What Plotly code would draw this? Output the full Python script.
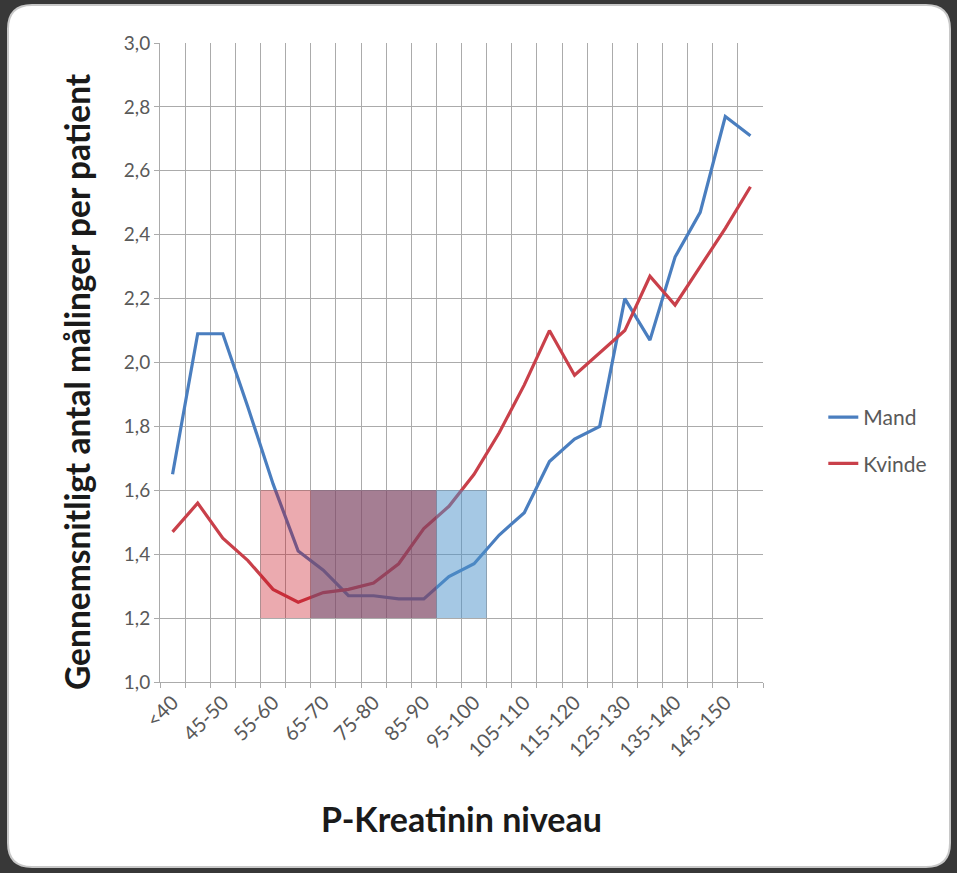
import plotly.graph_objects as go

categories = ["<40", "40-45", "45-50", "50-55", "55-60", "60-65", "65-70", "70-75",
              "75-80", "80-85", "85-90", "90-95", "95-100", "100-105", "105-110",
              "110-115", "115-120", "120-125", "125-130", "130-135", "135-140",
              "140-145", "145-150", ">150"]

mand = [1.65, 2.09, 2.09, 1.86, 1.62, 1.41, 1.35, 1.27, 1.27, 1.26, 1.26, 1.33,
        1.37, 1.46, 1.53, 1.69, 1.76, 1.80, 2.20, 2.07, 2.33, 2.47, 2.77, 2.71]
kvinde = [1.47, 1.56, 1.45, 1.38, 1.29, 1.25, 1.28, 1.29, 1.31, 1.37, 1.48, 1.55,
          1.65, 1.78, 1.93, 2.10, 1.96, 2.03, 2.10, 2.27, 2.18, 2.30, 2.42, 2.55]

# reference ranges (first / last category, value range)
kvinde_range_cats = ["55-60", "85-90"]
mand_range_cats = ["65-70", "95-100"]
ref_values = [1.2, 1.6]

xtick_labels = [c if i % 2 == 0 else "" for i, c in enumerate(categories)]

BLUE = "#4A7EBF"
RED = "#C9404A"
GRID = "#ABABAB"
TXT = "#595959"
FONT = "Lato"

W, H = 957, 873
L, R, T, B = 160, 194, 43, 191
pw, ph = W - L - R, H - T - B

def px2paper(x, y):
    return (x - L) / pw, (H - B - y) / ph

fig = go.Figure()
fig.add_trace(go.Scatter(x=categories, y=mand, mode="lines", name="Mand",
                         line=dict(color=BLUE, width=3.2), legendgroup="a"))
fig.add_trace(go.Scatter(x=categories, y=kvinde, mode="lines", name="Kvinde",
                         line=dict(color=RED, width=3.2), legendgroup="b"))

def cat_span(cats):
    return categories.index(cats[0]) - 0.5, categories.index(cats[1]) + 0.5

mx0, mx1 = cat_span(mand_range_cats)
kx0, kx1 = cat_span(kvinde_range_cats)
shapes = []
shapes.append(dict(type="rect", xref="x", yref="y", x0=mx0, x1=mx1,
                   y0=ref_values[0], y1=ref_values[1], layer="above",
                   fillcolor="rgba(75,145,201,0.5)", line=dict(width=0)))
shapes.append(dict(type="rect", xref="x", yref="y", x0=kx0, x1=kx1,
                   y0=ref_values[0], y1=ref_values[1], layer="above",
                   fillcolor="rgba(198,12,26,0.35)", line=dict(width=0)))
ox0, ox1 = max(mx0, kx0), min(mx1, kx1)
shapes.append(dict(type="rect", xref="x", yref="y", x0=ox0, x1=ox1,
                   y0=ref_values[0], y1=ref_values[1], layer="above",
                   fillcolor="rgba(0,0,0,0.06)", line=dict(width=0)))

# card background (rounded white panel on dark backdrop)
cx0, cy0, cx1, cy1, rad = 8, 5, 950, 867, 24
x0p, y0p = px2paper(cx0, cy0)
x1p, y1p = px2paper(cx1, cy1)
rx, ry = rad / pw, rad / ph
path = (f"M {x0p+rx} {y0p} L {x1p-rx} {y0p} Q {x1p} {y0p} {x1p} {y0p-ry} "
        f"L {x1p} {y1p+ry} Q {x1p} {y1p} {x1p-rx} {y1p} L {x0p+rx} {y1p} "
        f"Q {x0p} {y1p} {x0p} {y1p+ry} L {x0p} {y0p-ry} Q {x0p} {y0p} {x0p+rx} {y0p} Z")
shapes.insert(0, dict(type="path", xref="paper", yref="paper", path=path,
                      fillcolor="white", line=dict(color="#C8C8C8", width=2),
                      layer="below"))

xt_x, xt_y = px2paper(461, 818)
yt_x, yt_y = px2paper(77, 382)
annotations = [
    dict(text="<b>P-Kreatinin niveau</b>", xref="paper", yref="paper",
         x=xt_x, y=xt_y, xanchor="center", yanchor="middle", showarrow=False,
         font=dict(size=34, color="#1a1a1a", family=FONT)),
    dict(text="<b>Gennemsnitligt antal målinger per patient</b>", xref="paper", yref="paper",
         x=yt_x, y=yt_y, xanchor="center", yanchor="middle", showarrow=False,
         textangle=-90, font=dict(size=33.5, color="#1a1a1a", family=FONT)),
]

fig.update_layout(
    width=W, height=H,
    margin=dict(l=L, r=R, t=T, b=B),
    paper_bgcolor="#383838", plot_bgcolor="white",
    separators=",.",
    font=dict(family=FONT, color=TXT),
    shapes=shapes,
    annotations=annotations,
    showlegend=True,
    legend=dict(x=1.10, y=0.378, xanchor="left", yanchor="middle",
                font=dict(size=21, color=TXT, family=FONT),
                bgcolor="rgba(0,0,0,0)", tracegroupgap=16,
                traceorder="grouped"),
    xaxis=dict(
        type="category", tickmode="array", tickvals=categories, ticktext=xtick_labels,
        tickson="boundaries", showgrid=True, gridcolor=GRID, gridwidth=1,
        showline=True, linecolor=GRID, linewidth=1,
        ticks="outside", ticklen=5, tickcolor=GRID,
        tickangle=-45, tickfont=dict(size=20, color=TXT, family=FONT),
        range=[-0.5, len(categories) - 0.5],
        automargin=False,
    ),
    yaxis=dict(
        range=[1.0, 3.0], dtick=0.2, tickformat=".1f",
        showgrid=True, gridcolor=GRID, gridwidth=1,
        showline=True, linecolor=GRID, linewidth=1,
        ticks="outside", ticklen=5, tickcolor=GRID,
        tickfont=dict(size=19, color=TXT, family=FONT),
        zeroline=False, automargin=False,
    ),
)

fig.write_html(
    "out.html",
    config={"displayModeBar": False},
    post_script="document.body.style.margin='0';document.body.style.background='#383838';"
                "document.body.style.overflow='hidden';",
)
